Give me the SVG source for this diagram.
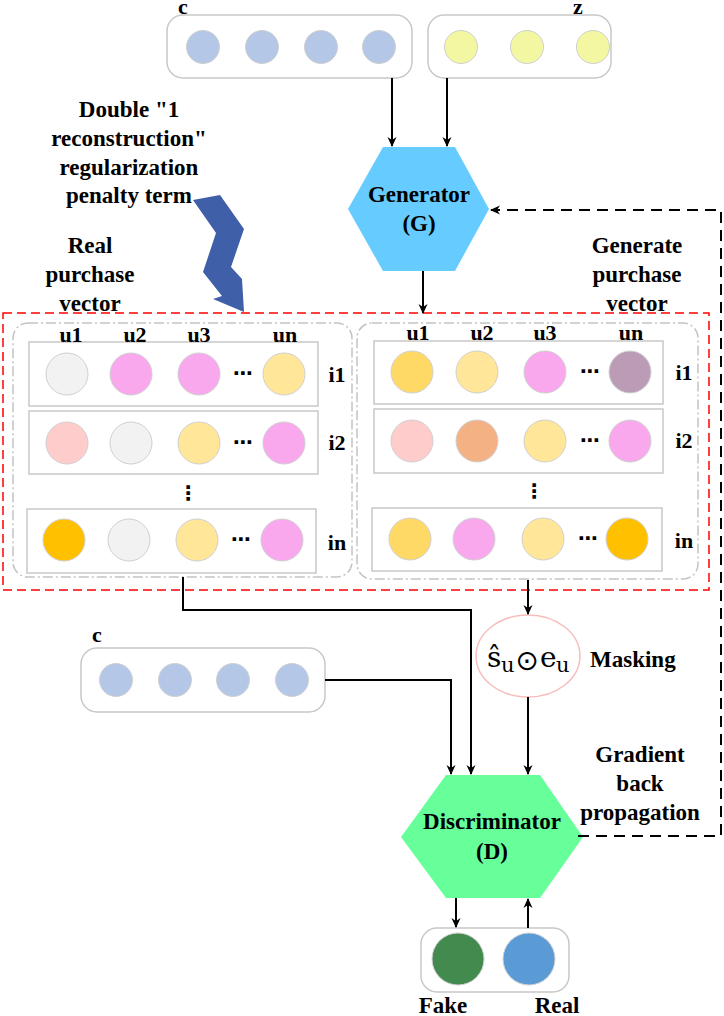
<svg xmlns="http://www.w3.org/2000/svg" width="724" height="1016" viewBox="0 0 724 1016">
<style>
.lbl{font-family:"Liberation Serif","Times New Roman",serif;font-weight:bold;font-size:23px;fill:#000;text-anchor:middle}
.lbs{font-family:"Liberation Serif","Times New Roman",serif;font-weight:bold;font-size:23px;fill:#000;text-anchor:start}
.sm{font-family:"Liberation Serif","Times New Roman",serif;font-weight:bold;font-size:22px;fill:#000;text-anchor:middle}
.vbox{fill:#fff;stroke:#C8C8C8;stroke-width:1.5}
.row{fill:#fff;stroke:#C8C8C8;stroke-width:1.5}
.grp{fill:none;stroke:#C4C4C4;stroke-width:1.5;stroke-dasharray:10 3 2 3}
.dot{stroke:#D0D0D0;stroke-width:1}
.line{fill:none;stroke:#000;stroke-width:2}
.dash{fill:none;stroke:#000;stroke-width:2;stroke-dasharray:11 7}
.ell{font-family:"DejaVu Sans",sans-serif;font-weight:bold;font-size:20px;fill:#000;text-anchor:middle}
.math{font-family:"DejaVu Serif",serif;fill:#000;text-anchor:start}
</style>
<defs>
<marker id="arr" markerWidth="10" markerHeight="10" refX="9" refY="5" orient="auto" markerUnits="userSpaceOnUse">
<path d="M0,0.5 L10,5 L0,9.5 L3,5 Z" fill="#000"/>
</marker>
</defs>
<rect width="724" height="1016" fill="#fff"/>

<g id="c-top">
<text class="sm" x="183" y="14">c</text>
<rect class="vbox" x="167" y="15" width="245" height="63" rx="16"/>
<circle class="dot" cx="203" cy="47" r="16.5" fill="#B4C7E7"/>
<circle class="dot" cx="262" cy="47" r="16.5" fill="#B4C7E7"/>
<circle class="dot" cx="321" cy="47" r="16.5" fill="#B4C7E7"/>
<circle class="dot" cx="379" cy="47" r="16.5" fill="#B4C7E7"/>
</g>

<g id="z-top">
<text class="sm" x="578" y="14">z</text>
<rect class="vbox" x="428" y="15" width="183" height="63" rx="16"/>
<circle class="dot" cx="461" cy="47" r="16.5" fill="#F3F7A2"/>
<circle class="dot" cx="527" cy="47" r="16.5" fill="#F3F7A2"/>
<circle class="dot" cx="593" cy="47" r="16.5" fill="#F3F7A2"/>
</g>

<g id="generator">
<polygon points="383,147 455,147 489,209 455,271 383,271 348,209" fill="#66CCFF"/>
<text class="lbl" x="419" y="202">Generator</text>
<text class="lbl" x="419" y="231">(G)</text>
</g>

<g id="penalty-note">
<text class="lbl" x="129" y="117">Double "1</text>
<text class="lbl" x="129" y="146">reconstruction"</text>
<text class="lbl" x="129" y="175">regularization</text>
<text class="lbl" x="129" y="203">penalty term</text>
<polygon points="193,200 220,195 244,229 231,267 242,279 244,312 213,299 222,296 203,272 216,233" fill="#3F5FA8"/>
</g>

<g id="real-label">
<text class="lbl" x="90" y="253">Real</text>
<text class="lbl" x="90" y="282">purchase</text>
<text class="lbl" x="90" y="311">vector</text>
</g>

<g id="gen-label">
<text class="lbl" x="637" y="253">Generate</text>
<text class="lbl" x="637" y="282">purchase</text>
<text class="lbl" x="637" y="311">vector</text>
</g>

<g id="purchase-region">
<rect x="3" y="313" width="706" height="277" fill="none" stroke="#FF0000" stroke-width="1.5" stroke-dasharray="9 5"/>
</g>

<g id="real-matrix">
<rect class="grp" x="13" y="323" width="339" height="254" rx="15"/>
<rect class="row" x="29" y="342" width="289" height="64"/>
<circle class="dot" cx="67" cy="374" r="21" fill="#F2F2F2"/>
<circle class="dot" cx="131" cy="374" r="21" fill="#FAA8EE"/>
<circle class="dot" cx="199" cy="374" r="21" fill="#FAA8EE"/>
<text class="ell" x="243" y="380">⋯</text>
<circle class="dot" cx="284" cy="374" r="21" fill="#FFE699"/>
<text class="sm" x="337" y="382">i1</text>
<rect class="row" x="29" y="411" width="289" height="63"/>
<circle class="dot" cx="67" cy="443" r="21" fill="#FFCCCC"/>
<circle class="dot" cx="131" cy="443" r="21" fill="#F2F2F2"/>
<circle class="dot" cx="199" cy="443" r="21" fill="#FFE699"/>
<text class="ell" x="243" y="449">⋯</text>
<circle class="dot" cx="284" cy="443" r="21" fill="#FAA8EE"/>
<text class="sm" x="337" y="450">i2</text>
<text class="ell" x="188" y="500">⋮</text>
<rect class="row" x="27" y="509" width="289" height="64"/>
<circle class="dot" cx="64" cy="540" r="21" fill="#FFC000"/>
<circle class="dot" cx="129" cy="540" r="21" fill="#F2F2F2"/>
<circle class="dot" cx="197" cy="540" r="21" fill="#FFE699"/>
<text class="ell" x="241" y="546">⋯</text>
<circle class="dot" cx="282" cy="540" r="21" fill="#FAA8EE"/>
<text class="sm" x="337" y="550">in</text>
<text class="sm" x="71" y="342">u1</text>
<text class="sm" x="135" y="342">u2</text>
<text class="sm" x="199" y="342">u3</text>
<text class="sm" x="285" y="342">un</text>
</g>

<g id="gen-matrix">
<rect class="grp" x="357" y="323" width="341" height="256" rx="15"/>
<rect class="row" x="374" y="341" width="289" height="63"/>
<circle class="dot" cx="412" cy="372" r="21" fill="#FFD966"/>
<circle class="dot" cx="477" cy="372" r="21" fill="#FFE699"/>
<circle class="dot" cx="545" cy="372" r="21" fill="#FAA8EE"/>
<text class="ell" x="590" y="378">⋯</text>
<circle class="dot" cx="630" cy="372" r="21" fill="#BC9BB6"/>
<text class="sm" x="684" y="380">i1</text>
<rect class="row" x="374" y="409" width="289" height="64"/>
<circle class="dot" cx="412" cy="441" r="21" fill="#FFCCCC"/>
<circle class="dot" cx="477" cy="441" r="21" fill="#F4B183"/>
<circle class="dot" cx="545" cy="441" r="21" fill="#FFE699"/>
<text class="ell" x="590" y="447">⋯</text>
<circle class="dot" cx="630" cy="441" r="21" fill="#FAA8EE"/>
<text class="sm" x="684" y="448">i2</text>
<text class="ell" x="534" y="498">⋮</text>
<rect class="row" x="372" y="508" width="290" height="63"/>
<circle class="dot" cx="410" cy="539" r="21" fill="#FFD966"/>
<circle class="dot" cx="474" cy="539" r="21" fill="#FAA8EE"/>
<circle class="dot" cx="543" cy="539" r="21" fill="#FFE699"/>
<text class="ell" x="588" y="545">⋯</text>
<circle class="dot" cx="627" cy="539" r="21" fill="#FFC000"/>
<text class="sm" x="684" y="548">in</text>
<text class="sm" x="418" y="340">u1</text>
<text class="sm" x="482" y="340">u2</text>
<text class="sm" x="545" y="340">u3</text>
<text class="sm" x="631" y="340">un</text>
</g>

<g id="c-bottom">
<text class="sm" x="97" y="642">c</text>
<rect class="vbox" x="81" y="648" width="244" height="64" rx="16"/>
<circle class="dot" cx="116" cy="680" r="16.5" fill="#B4C7E7"/>
<circle class="dot" cx="175" cy="680" r="16.5" fill="#B4C7E7"/>
<circle class="dot" cx="233" cy="680" r="16.5" fill="#B4C7E7"/>
<circle class="dot" cx="292" cy="680" r="16.5" fill="#B4C7E7"/>
</g>

<g id="masking">
<ellipse cx="528" cy="656" rx="52" ry="41" fill="#fff" stroke="#F7BDBD" stroke-width="1.5"/>
<text class="math" x="487" y="667" font-size="28">ŝ</text>
<text class="math" x="501" y="672" font-size="21">u</text>
<text x="527" y="670" font-family="DejaVu Sans,sans-serif" font-size="28" text-anchor="middle">⊙</text>
<text class="math" x="540" y="667" font-size="28">e</text>
<text class="math" x="556" y="672" font-size="21">u</text>
<text class="lbs" x="590" y="667">Masking</text>
</g>

<g id="discriminator">
<polygon points="446,775 540,775 583,837 540,898 446,898 401,837" fill="#66FF99"/>
<text class="lbl" x="492" y="829">Discriminator</text>
<text class="lbl" x="492" y="859">(D)</text>
</g>

<g id="gradient-label">
<text class="lbl" x="640" y="762">Gradient</text>
<text class="lbl" x="640" y="791">back</text>
<text class="lbl" x="640" y="820">propagation</text>
</g>

<g id="output">
<rect class="vbox" x="421" y="928" width="148" height="64" rx="16"/>
<circle cx="458" cy="959" r="26" fill="#428A4E" stroke="#D0D0D0" stroke-width="1"/>
<circle cx="529" cy="959" r="26" fill="#5B9BD5" stroke="#D0D0D0" stroke-width="1"/>
<text class="lbl" x="443" y="1013">Fake</text>
<text class="lbl" x="557" y="1013">Real</text>
</g>

<g id="connectors">
<path class="line" d="M392,78 V146" marker-end="url(#arr)"/>
<path class="line" d="M447,78 V146" marker-end="url(#arr)"/>
<path class="line" d="M423,271 V313" marker-end="url(#arr)"/>
<path class="line" d="M183,577 V610 H471 V774" marker-end="url(#arr)"/>
<path class="line" d="M325,680 H451 V774" marker-end="url(#arr)"/>
<path class="line" d="M528,580 V614" marker-end="url(#arr)"/>
<path class="line" d="M528,697 V774" marker-end="url(#arr)"/>
<path class="line" d="M456,898 V927" marker-end="url(#arr)"/>
<path class="line" d="M528,928 V899" marker-end="url(#arr)"/>
<path class="dash" d="M578,836 H721 V210 H491" marker-end="url(#arr)"/>
</g>
</svg>
